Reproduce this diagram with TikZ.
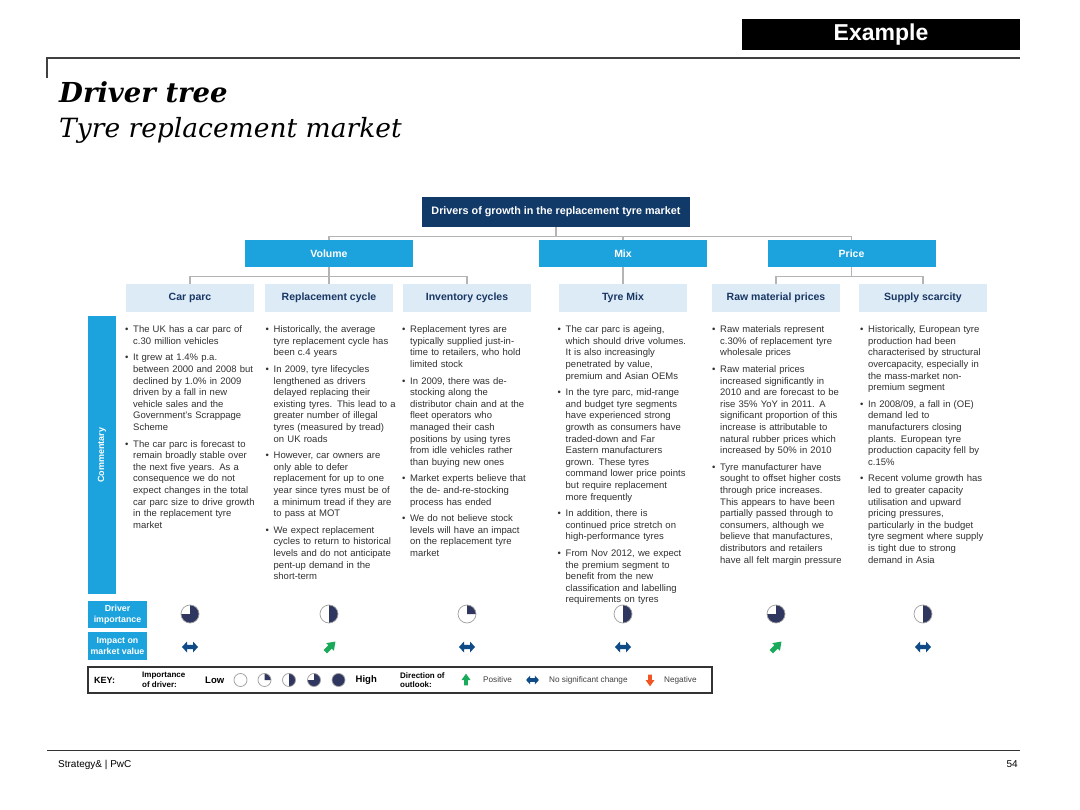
\documentclass[tikz,border=0pt]{standalone}
\usepackage{fontspec}
\setmainfont{Liberation Sans}
\newfontfamily\titlefont{DejaVu Serif}
\definecolor{navy}{RGB}{18,58,105}
\definecolor{navytext}{RGB}{25,55,100}
\definecolor{midblue}{RGB}{28,163,221}
\definecolor{lightblue}{RGB}{221,235,246}
\definecolor{piecol}{RGB}{47,55,96}
\definecolor{arrowblue}{RGB}{15,75,135}
\definecolor{posgreen}{RGB}{25,170,90}
\definecolor{negred}{RGB}{240,85,35}
\definecolor{txt}{RGB}{50,50,50}
\definecolor{linegray}{RGB}{180,180,180}
\newcommand\bul[1]{\par\parskip=0pt\hangindent=8pt\hangafter=1\noindent\makebox[8pt][l]{\textbullet}#1\par\vspace{5pt}}
\newcommand\piechart[4]{%
  \fill[white] (#1,#2) circle[radius=#3];
  \ifnum#4>-90 \fill[piecol] (#1,#2) -- ++(0,-#3) arc[start angle=-90,end angle=#4,radius=#3] -- cycle;\fi
  \draw[gray!75,line width=0.7] (#1,#2) circle[radius=#3];}
\tikzset{
  fatup/.pic={\fill[#1] (-2.2,6) -- (2.2,6) -- (2.2,0) -- (5,0) -- (0,-7) -- (-5,0) -- (-2.2,0) -- cycle;},
  dblarr/.pic={\fill[#1] (-8,0) -- (-3,-5.5) -- (-3,-2.2) -- (3,-2.2) -- (3,-5.5) -- (8,0) -- (3,5.5) -- (3,2.2) -- (-3,2.2) -- (-3,5.5) -- cycle;}
}
\begin{document}
\begin{tikzpicture}[x=1pt,y=-1pt,
  conn/.style={draw=linegray, line width=1.3},
  rootbox/.style={fill=navy, text=white, font=\bfseries\fontsize{10.8}{12}\selectfont, minimum width=268, minimum height=30, inner sep=0},
  lvltwo/.style={fill=midblue, text=white, font=\bfseries\fontsize{10.5}{12}\selectfont, minimum width=168, minimum height=27, inner sep=0},
  lvlthree/.style={fill=lightblue, text=navytext, font=\bfseries\fontsize{10.5}{12}\selectfont, minimum width=128, minimum height=28, inner sep=0},
  comm/.style={anchor=north west, inner sep=0, text width=140, text=txt, font=\fontsize{9.5}{11.6}\selectfont},
  rowlab/.style={fill=midblue, text=white, font=\bfseries\fontsize{8.8}{10.8}\selectfont, minimum width=59, inner sep=0, align=center},
  keybold/.style={anchor=west, inner sep=0, font=\bfseries\fontsize{8}{9.5}\selectfont, align=left},
  keysmall/.style={anchor=west, inner sep=0, text=black!75, font=\fontsize{8.2}{10}\selectfont}
]
\useasboundingbox (0,0) rectangle (1080,810);
\fill[white] (0,0) rectangle (1080,810);

% header
\node[fill=black, minimum width=278, minimum height=31, inner sep=0, text=white, font=\bfseries\fontsize{23}{26}\selectfont] (ex) at (881,34.5) {Example};
\draw[line width=1.2, draw=black!75] (47,78) -- (47,58) -- (1020,58);
\node[anchor=base west, inner sep=0, font=\titlefont\bfseries\itshape\fontsize{27.5}{30}\selectfont] (title) at (59,103) {Driver tree};
\node[anchor=base west, inner sep=0, font=\titlefont\itshape\fontsize{26.5}{30}\selectfont] (subtitle) at (59,138) {Tyre replacement market};

% tree
\node[rootbox] (root) at (556,212) {Drivers of growth in the replacement tyre market};
\node[lvltwo] (vol) at (329,253.5) {Volume};
\node[lvltwo] (mix) at (623,253.5) {Mix};
\node[lvltwo] (price) at (851.5,253.5) {Price};
\node[lvlthree] (cp) at (190,298) {Car parc};
\node[lvlthree] (rc) at (329,298) {Replacement cycle};
\node[lvlthree] (ic) at (467,298) {Inventory cycles};
\node[lvlthree] (tm) at (623,298) {Tyre Mix};
\node[lvlthree] (rm) at (776,298) {Raw material prices};
\node[lvlthree] (ss) at (923,298) {Supply scarcity};

\draw[conn] (root.south) -- ++(0,9) -| (vol.north);
\draw[conn] (root.south) -- ++(0,9) -| (mix.north);
\draw[conn] (root.south) -- ++(0,9) -| (price.north);
\draw[conn] (vol.south) -- ++(0,9) -| (cp.north);
\draw[conn] (vol.south) -- (rc.north);
\draw[conn] (vol.south) -- ++(0,9) -| (ic.north);
\draw[conn] (mix.south) -- (tm.north);
\draw[conn] (price.south) -- ++(0,9) -| (rm.north);
\draw[conn] (price.south) -- ++(0,9) -| (ss.north);

% commentary
\node[fill=midblue, text=white, font=\bfseries\fontsize{9}{11}\selectfont, minimum width=278, minimum height=28, inner sep=0, rotate=90] (combar) at (102,455) {Commentary};

\node[comm] (c1) at (125,321) {%
\bul{The UK has a car parc of\newline c.30 million vehicles}%
\bul{It grew at 1.4\% p.a.\newline between 2000 and 2008 but\newline declined by 1.0\% in 2009\newline driven by a fall in new\newline vehicle sales and the\newline Government's Scrappage\newline Scheme}%
\bul{The car parc is forecast to\newline remain broadly stable over\newline the next five years. As a\newline consequence we do not\newline expect changes in the total\newline car parc size to drive growth\newline in the replacement tyre\newline market}};

\node[comm] (c2) at (265.5,321) {%
\bul{Historically, the average\newline tyre replacement cycle has\newline been c.4 years}%
\bul{In 2009, tyre lifecycles\newline lengthened as drivers\newline delayed replacing their\newline existing tyres. This lead to a\newline greater number of illegal\newline tyres (measured by tread)\newline on UK roads}%
\bul{However, car owners are\newline only able to defer\newline replacement for up to one\newline year since tyres must be of\newline a minimum tread if they are\newline to pass at MOT}%
\bul{We expect replacement\newline cycles to return to historical\newline levels and do not anticipate\newline pent-up demand in the\newline short-term}};

\node[comm] (c3) at (402,321) {%
\bul{Replacement tyres are\newline typically supplied just-in-\newline time to retailers, who hold\newline limited stock}%
\bul{In 2009, there was de-\newline stocking along the\newline distributor chain and at the\newline fleet operators who\newline managed their cash\newline positions by using tyres\newline from idle vehicles rather\newline than buying new ones}%
\bul{Market experts believe that\newline the de- and-re-stocking\newline process has ended}%
\bul{We do not believe stock\newline levels will have an impact\newline on the replacement tyre\newline market}};

\node[comm] (c4) at (557.5,321) {%
\bul{The car parc is ageing,\newline which should drive volumes.\newline It is also increasingly\newline penetrated by value,\newline premium and Asian OEMs}%
\bul{In the tyre parc, mid-range\newline and budget tyre segments\newline have experienced strong\newline growth as consumers have\newline traded-down and Far\newline Eastern manufacturers\newline grown. These tyres\newline command lower price points\newline but require replacement\newline more frequently}%
\bul{In addition, there is\newline continued price stretch on\newline high-performance tyres}%
\bul{From Nov 2012, we expect\newline the premium segment to\newline benefit from the new\newline classification and labelling\newline requirements on tyres}};

\node[comm] (c5) at (712,321) {%
\bul{Raw materials represent\newline c.30\% of replacement tyre\newline wholesale prices}%
\bul{Raw material prices\newline increased significantly in\newline 2010 and are forecast to be\newline rise 35\% YoY in 2011. A\newline significant proportion of this\newline increase is attributable to\newline natural rubber prices which\newline increased by 50\% in 2010}%
\bul{Tyre manufacturer have\newline sought to offset higher costs\newline through price increases.\newline This appears to have been\newline partially passed through to\newline consumers, although we\newline believe that manufactures,\newline distributors and retailers\newline have all felt margin pressure}};

\node[comm] (c6) at (860,321) {%
\bul{Historically, European tyre\newline production had been\newline characterised by structural\newline overcapacity, especially in\newline the mass-market non-\newline premium segment}%
\bul{In 2008/09, a fall in (OE)\newline demand led to\newline manufacturers closing\newline plants. European tyre\newline production capacity fell by\newline c.15\%}%
\bul{Recent volume growth has\newline led to greater capacity\newline utilisation and upward\newline pricing pressures,\newline particularly in the budget\newline tyre segment where supply\newline is tight due to strong\newline demand in Asia}};

% rows
\node[rowlab, minimum height=27] (dimp) at (117.5,614.5) {Driver\\importance};
\node[rowlab, minimum height=28] (imv) at (117.5,646) {Impact on\\market value};

\piechart{190}{614}{9}{180}
\piechart{329}{614}{9}{90}
\piechart{467}{614}{9}{0}
\piechart{623}{614}{9}{90}
\piechart{776}{614}{9}{180}
\piechart{923}{614}{9}{90}

\pic at (190,647) {dblarr=arrowblue};
\pic[scale=1.1,rotate=-45] at (330,647) {fatup=posgreen};
\pic at (467,647) {dblarr=arrowblue};
\pic at (623,647) {dblarr=arrowblue};
\pic[scale=1.1,rotate=-45] at (776,647) {fatup=posgreen};
\pic at (923,647) {dblarr=arrowblue};

% key
\draw[line width=1.3, draw=black!80, fill=white] (88,667) rectangle (712,693);
\node[keybold, font=\bfseries\fontsize{9}{11}\selectfont] (kk) at (94,680) {KEY:};
\node[keybold] (ki) at (142,680) {Importance\\of driver:};
\node[keybold, font=\bfseries\fontsize{9.5}{11}\selectfont] (klow) at (205,680) {Low};
\piechart{240.5}{680}{6.5}{-90}
\piechart{264.5}{680}{6.5}{0}
\piechart{289}{680}{6.5}{90}
\piechart{314}{680}{6.5}{180}
\piechart{338.5}{680}{6.5}{270}
\node[keybold, font=\bfseries\fontsize{9.5}{11}\selectfont] (khigh) at (355.5,680) {High};
\node[keybold] (kdir) at (400,680) {Direction of\\outlook:};
\pic[scale=0.9] at (466,680) {fatup=posgreen};
\node[keysmall] (kpos) at (483,680) {Positive};
\pic[scale=0.8] at (532.5,680) {dblarr=arrowblue};
\node[keysmall] (knsc) at (549,680) {No significant change};
\pic[scale=0.9,rotate=180] at (650,680) {fatup=negred};
\node[keysmall] (kneg) at (664,680) {Negative};

% footer
\draw[line width=1, draw=black!80] (47,750) -- (1020,750);
\node[anchor=base west, inner sep=0, font=\fontsize{10}{12}\selectfont] (foot) at (58,767) {Strategy\& | PwC};
\node[anchor=base east, inner sep=0, font=\fontsize{10}{12}\selectfont] (page) at (1018,767) {54};
\end{tikzpicture}
\end{document}
